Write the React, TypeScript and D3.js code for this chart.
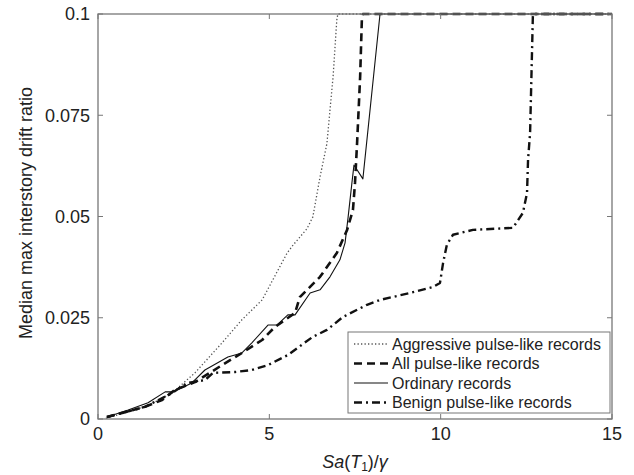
import React from "react";
import * as d3 from "d3";

const xTicks = [0, 5, 10, 15];
const yTicks = [0, 0.025, 0.05, 0.075, 0.1];
const yTickLabels = ["0", "0.025", "0.05", "0.075", "0.1"];

const aggressiveX = [0.23, 1.0, 1.5, 2.16, 2.83, 3.62, 4.2, 4.79, 5.52, 5.7, 5.85, 6.1, 6.27, 6.48, 6.68, 6.86, 6.97, 7.0, 15];
const aggressiveY = [0.0002, 0.002, 0.0035, 0.0064, 0.0114, 0.0188, 0.0245, 0.0294, 0.041, 0.043, 0.0445, 0.047, 0.0499, 0.0598, 0.068, 0.0845, 0.0986, 0.1, 0.1];

const allPulseX = [0.26, 1.37, 1.87, 2.25, 2.83, 3.62, 4.2, 4.79, 5.16, 5.75, 5.89, 6.48, 6.97, 7.27, 7.44, 7.5, 7.56, 7.65, 7.7, 7.73, 15];
const allPulseY = [0.0005, 0.003, 0.0047, 0.0072, 0.0091, 0.0133, 0.0163, 0.0195, 0.0227, 0.0262, 0.0301, 0.0351, 0.041, 0.0467, 0.0516, 0.0583, 0.068, 0.0845, 0.0986, 0.1, 0.1];

const ordinaryX = [0.26, 0.88, 1.46, 1.96, 2.16, 2.45, 2.74, 3.12, 3.79, 4.2, 4.49, 4.96, 5.22, 5.54, 5.75, 6.19, 6.48, 6.77, 7.06, 7.21, 7.3, 7.41, 7.47, 7.73, 8.23, 15];
const ordinaryY = [0.0005, 0.0022, 0.004, 0.0067, 0.0067, 0.0077, 0.0089, 0.0121, 0.0153, 0.0163, 0.0188, 0.0232, 0.0232, 0.0257, 0.0257, 0.0311, 0.0319, 0.0351, 0.0393, 0.0435, 0.0499, 0.0583, 0.0627, 0.0593, 0.1, 0.1];

const benignX = [0.26, 1.37, 2.16, 2.6, 3.12, 3.36, 4.0, 4.49, 4.96, 5.54, 6.27, 6.68, 7.15, 7.85, 8.23, 9.1, 9.78, 9.98, 10.07, 10.18, 10.36, 10.94, 12.11, 12.4, 12.52, 12.55, 12.61, 12.69, 12.7, 15];
const benignY = [0.0005, 0.003, 0.0064, 0.0089, 0.0096, 0.0114, 0.0116, 0.0121, 0.0133, 0.0158, 0.0203, 0.022, 0.0252, 0.0282, 0.0294, 0.0311, 0.0326, 0.0336, 0.0385, 0.043, 0.0455, 0.0467, 0.0472, 0.0509, 0.0558, 0.064, 0.0707, 0.0993, 0.1, 0.1];

const seriesNames = [
  "Aggressive pulse-like records",
  "All pulse-like records",
  "Ordinary records",
  "Benign pulse-like records",
];

const W = 634;
const H = 475;
const L = 98, R = 612, T = 14, B = 419;

export default function App() {
  const x = d3.scaleLinear().domain([0, 15]).range([L, R]);
  const y = d3.scaleLinear().domain([0, 0.1]).range([B, T]);
  const line = d3
    .line<[number, number]>()
    .x((d) => x(d[0]))
    .y((d) => y(d[1]));
  const zip = (a: number[], b: number[]) => a.map((v, i) => [v, b[i]] as [number, number]);

  const styles = [
    { stroke: "#555", width: 1.3, dash: "1.3 2.2" },
    { stroke: "#111", width: 2.6, dash: "8 5" },
    { stroke: "#111", width: 1.1, dash: "" },
    { stroke: "#111", width: 2.4, dash: "8 4 2 4" },
  ];
  const data = [
    zip(aggressiveX, aggressiveY),
    zip(allPulseX, allPulseY),
    zip(ordinaryX, ordinaryY),
    zip(benignX, benignY),
  ];

  const font = "'Liberation Sans', Arial, Helvetica, sans-serif";
  const axisColor = "#777";
  const legX = 348, legY = 332, legW = 262, legH = 81;
  const rowH = 19.5;

  return (
    <svg
      width={W}
      height={H}
      style={{ position: "absolute", left: 0, top: 0, background: "#fff" }}
      fontFamily={font}
    >
      <rect x={0} y={0} width={W} height={H} fill="#fff" />
      {data.map((d, i) => (
        <path
          key={i}
          d={line(d) || ""}
          fill="none"
          stroke={styles[i].stroke}
          strokeWidth={styles[i].width}
          strokeDasharray={styles[i].dash}
          strokeLinejoin="round"
        />
      ))}
      <rect x={L} y={T} width={R - L} height={B - T} fill="none" stroke={axisColor} strokeWidth={1.3} />
      {xTicks.map((t) => (
        <g key={"x" + t}>
          <line x1={x(t)} x2={x(t)} y1={B} y2={B - 5} stroke={axisColor} strokeWidth={1} />
          <line x1={x(t)} x2={x(t)} y1={T} y2={T + 5} stroke={axisColor} strokeWidth={1} />
          <text x={x(t)} y={B + 21} fontSize={18} textAnchor="middle" fill="#222">
            {t}
          </text>
        </g>
      ))}
      {yTicks.map((t, i) => (
        <g key={"y" + t}>
          <line x1={L} x2={L + 5} y1={y(t)} y2={y(t)} stroke={axisColor} strokeWidth={1} />
          <line x1={R} x2={R - 5} y1={y(t)} y2={y(t)} stroke={axisColor} strokeWidth={1} />
          <text x={L - 8} y={y(t)} dy="0.36em" fontSize={18} textAnchor="end" fill="#222">
            {yTickLabels[i]}
          </text>
        </g>
      ))}
      <text
        transform={`translate(32, 213) rotate(-90)`}
        textAnchor="middle"
        fontSize={18}
        fill="#222"
      >
        Median max interstory drift ratio
      </text>
      <text x={(L + R) / 2} y={468} textAnchor="middle" fontSize={18} fill="#222">
        <tspan fontStyle="italic">Sa</tspan>
        <tspan>(</tspan>
        <tspan fontStyle="italic">T</tspan>
        <tspan fontSize={12} dy={3}>1</tspan>
        <tspan dy={-3}>)/</tspan>
        <tspan fontStyle="italic">γ</tspan>
      </text>
      <g>
        <rect x={legX} y={legY} width={legW} height={legH} fill="#fff" stroke={axisColor} strokeWidth={1} />
        {seriesNames.map((name, i) => {
          const cy = legY + 12 + i * rowH;
          return (
            <g key={name}>
              <line
                x1={legX + 6}
                x2={legX + 40}
                y1={cy}
                y2={cy}
                stroke={styles[i].stroke}
                strokeWidth={styles[i].width}
                strokeDasharray={styles[i].dash}
              />
              <text x={legX + 44} y={cy} dy="0.36em" fontSize={16} fill="#222">
                {name}
              </text>
            </g>
          );
        })}
      </g>
    </svg>
  );
}
